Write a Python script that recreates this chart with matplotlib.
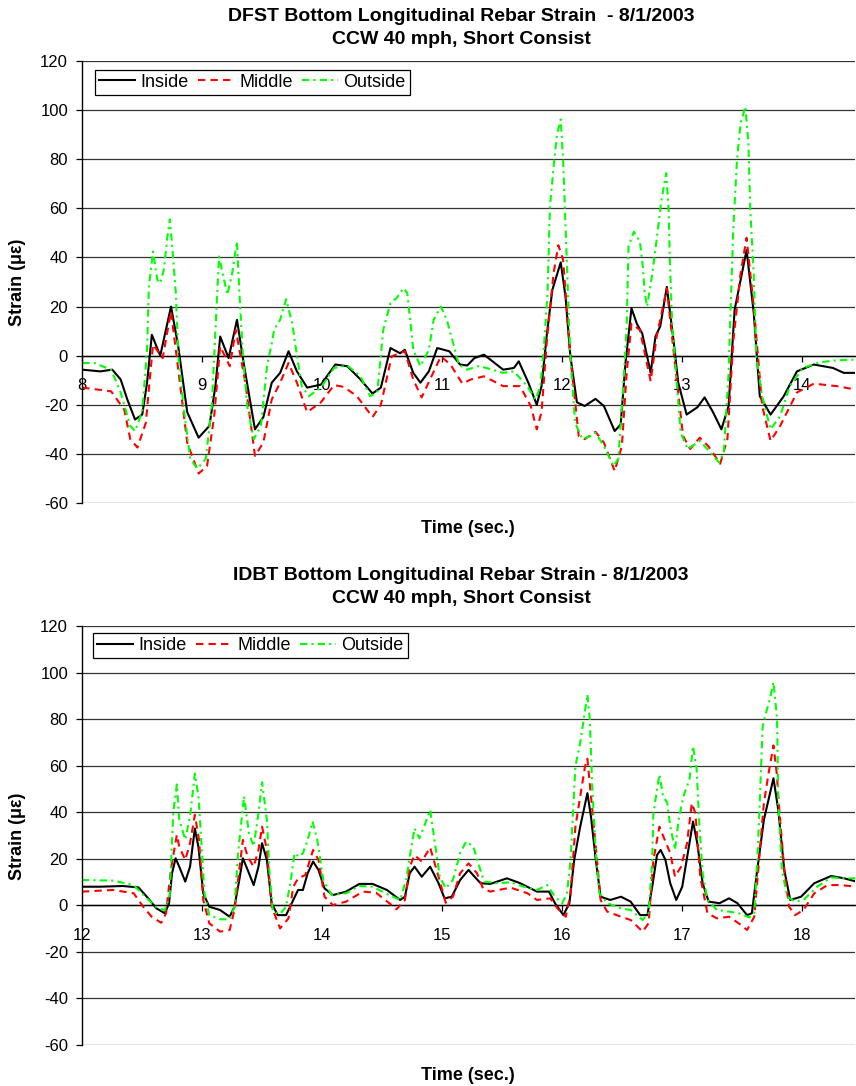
import matplotlib
matplotlib.use("Agg")
import matplotlib.pyplot as plt
import numpy as np

plt.rcParams['font.family'] = ['Liberation Sans', 'DejaVu Sans']

# ---------------- DFST (time in s, strain in microstrain) ----------------
dfst_t_inside = [8.0, 8.15, 8.25, 8.32, 8.375, 8.44, 8.5, 8.54, 8.58, 8.65, 8.74, 8.8, 8.875, 8.97, 9.06,
                 9.11, 9.15, 9.22, 9.29, 9.35, 9.44, 9.51, 9.58, 9.65, 9.72, 9.79, 9.875, 9.99, 10.11,
                 10.21, 10.32, 10.42, 10.49, 10.57, 10.65, 10.69, 10.76, 10.82, 10.89, 10.96, 11.06,
                 11.15, 11.21, 11.27, 11.35, 11.51, 11.6, 11.64, 11.72, 11.79, 11.83, 11.875, 11.92,
                 11.99, 12.03, 12.07, 12.125, 12.19, 12.28, 12.35, 12.44, 12.49, 12.53, 12.58, 12.625,
                 12.67, 12.74, 12.78, 12.82, 12.875, 12.93, 12.97, 13.04, 13.13, 13.19, 13.26, 13.33,
                 13.39, 13.44, 13.54, 13.6, 13.65, 13.74, 13.85, 13.96, 14.1, 14.26, 14.35, 14.45]
dfst_inside = [-5.7, -6.4, -5.7, -9.7, -17.8, -26, -24, -11, 8.5, 0, 20, 3.8, -23, -33.4, -28.6,
               -12.4, 7.8, -1, 14.6, -4.3, -30, -25, -11, -7, 1.8, -6.4, -13, -11.8, -3.6,
               -4.3, -9.7, -15.4, -13, 3.1, 1, 2.4, -7, -11, -6.4, 3.1, 1.8,
               -3.6, -4, -1, 0.4, -5.7, -5, -2.3, -11, -20, -12.4, 9, 26.8,
               38, 24, 0, -19, -20.5, -17.6, -20.5, -30.7, -28, -3, 19.3, 13,
               9, -7, 7.8, 12, 28, 6.5, -11, -24, -21, -17, -23, -30,
               -20.5, 18.6, 43, 17.3, -16.5, -24, -16.5, -6.4, -3.6, -5, -7, -7]

dfst_t_middle = [8.0, 8.24, 8.35, 8.4, 8.46, 8.53, 8.56, 8.59, 8.67, 8.74, 8.79, 8.875, 8.97, 9.04, 9.1,
                 9.15, 9.23, 9.28, 9.36, 9.44, 9.51, 9.58, 9.65, 9.72, 9.79, 9.875, 9.99, 10.1, 10.18,
                 10.29, 10.42, 10.49, 10.58, 10.69, 10.76, 10.83, 10.9, 10.99, 11.07, 11.17, 11.24,
                 11.35, 11.51, 11.65, 11.74, 11.79, 11.83, 11.875, 11.93, 11.97, 12.01, 12.07, 12.14,
                 12.19, 12.28, 12.35, 12.44, 12.5, 12.54, 12.58, 12.65, 12.74, 12.79, 12.875, 12.93,
                 13.01, 13.07, 13.15, 13.22, 13.32, 13.38, 13.43, 13.49, 13.54, 13.6, 13.67, 13.74,
                 13.82, 13.96, 14.1, 14.29, 14.45]
dfst_middle = [-13, -14.5, -22, -34, -37.4, -27.3, -11, 4.5, -1, 18, -1.6, -35.4, -48, -45, -24.6,
               3.8, -4.3, 10.5, -11, -40.8, -35.4, -17.8, -11, -3, -11, -23, -19, -12, -12.7,
               -16.5, -25, -20, -0.3, 1.8, -9.7, -17, -9.7, -0.3, -3.6, -11.4, -9.7,
               -8.4, -12.4, -12.4, -20.5, -30, -23, 6.5, 33.5, 45, 39, -0.3, -32.7,
               -34, -31, -35.4, -47, -36.8, -7, 13, 10.5, -10.4, 7.8, 27.4, 2.4,
               -32.7, -38, -33.4, -36.8, -44, -34, 6.5, 33.5, 48, 20, -20.5, -34.7,
               -28.6, -15, -11.4, -12.4, -13.8]

dfst_t_outside = [8.0, 8.1, 8.24, 8.32, 8.4, 8.44, 8.5, 8.54, 8.555, 8.59, 8.625, 8.65, 8.68, 8.71, 8.73,
                  8.75, 8.78, 8.8, 8.85, 8.9, 8.96, 9.03, 9.08, 9.1, 9.12, 9.14, 9.17, 9.21, 9.25, 9.29,
                  9.31, 9.34, 9.375, 9.43, 9.49, 9.54, 9.58, 9.6, 9.65, 9.7, 9.75, 9.79, 9.83, 9.89,
                  9.99, 10.1, 10.21, 10.32, 10.4, 10.46, 10.51, 10.57, 10.62, 10.68, 10.71, 10.74,
                  10.76, 10.82, 10.89, 10.93, 10.99, 11.04, 11.1, 11.14, 11.21, 11.3, 11.37, 11.51,
                  11.6, 11.71, 11.78, 11.82, 11.85, 11.88, 11.9, 11.936, 11.96, 11.99, 12.01, 12.03,
                  12.05, 12.07, 12.11, 12.17, 12.24, 12.28, 12.35, 12.43, 12.47, 12.51, 12.54, 12.555,
                  12.6, 12.625, 12.65, 12.675, 12.69, 12.71, 12.75, 12.79, 12.83, 12.87, 12.89, 12.9,
                  12.92, 12.94, 12.99, 13.05, 13.15, 13.24, 13.31, 13.35, 13.39, 13.4, 13.43, 13.46,
                  13.49, 13.53, 13.555, 13.57, 13.6, 13.62, 13.67, 13.74, 13.82, 13.9, 14.01, 14.15,
                  14.29, 14.45]
dfst_outside = [-3, -3, -5.7, -15, -28.6, -30.7, -22.6, 2.4, 28, 42.4, 31, 29.5, 35, 48.5, 55.5,
                44.4, 25.5, 0, -23, -42, -46, -42, -20.5, 0, 21.4, 40.4, 33.6, 24.8, 33.6, 46.5,
                25.5, 0, -20.5, -34, -28.6, -4.3, 5, 10.6, 14.6, 23, 13.3, 0, -12.4, -16.5,
                -13, -5, -4, -8.4, -16.5, -15, 10.6, 21.4, 23.4, 27.5, 25.5, 12,
                2.4, -4.3, 2.4, 14.6, 20, 14.6, 3.8, -3.6, -5.7, -4.3, -5, -7,
                -6.4, -12.4, -17.8, -12.4, 3.8, 25.5, 60.7, 79.7, 90.5, 96.2, 79.7, 52.6,
                25.5, 0, -27.3, -34, -32.7, -31.4, -36.8, -45, -42, -13.8, 12, 44.4,
                50.5, 48.5, 46.5, 36.3, 25.5, 20, 32.2, 47.2, 63.4, 74.3, 59.3, 39,
                12, 0, -31.4, -38, -34.7, -39.5, -43.5, -39.5, -7, 9.2, 52.6, 79.7,
                94.6, 101.4, 86.4, 60.7, 32.2, 0, -16.5, -30, -24.6, -12.4, -5, -2.7,
                -1.9, -1.6]

# ---------------- IDBT ----------------
idbt_t_inside = [12.0, 12.15, 12.34, 12.47, 12.54, 12.62, 12.69, 12.725, 12.75, 12.78, 12.81, 12.86, 12.9,
                 12.94, 12.97, 13.01, 13.06, 13.15, 13.23, 13.27, 13.31, 13.34, 13.38, 13.43, 13.47, 13.5,
                 13.54, 13.58, 13.63, 13.7, 13.76, 13.8, 13.84, 13.88, 13.925, 13.97, 14.02, 14.09, 14.2,
                 14.31, 14.42, 14.54, 14.65, 14.69, 14.73, 14.77, 14.83, 14.9, 14.97, 15.02, 15.08, 15.15,
                 15.22, 15.27, 15.32, 15.4, 15.54, 15.65, 15.79, 15.89, 15.94, 16.01, 16.06, 16.1, 16.15,
                 16.21, 16.24, 16.28, 16.32, 16.4, 16.49, 16.57, 16.65, 16.71, 16.75, 16.79, 16.82, 16.86,
                 16.9, 16.95, 17.0, 17.06, 17.09, 17.125, 17.17, 17.22, 17.31, 17.39, 17.46, 17.54, 17.58,
                 17.625, 17.68, 17.76, 17.8, 17.85, 17.9, 17.99, 18.1, 18.24, 18.35, 18.45]
idbt_inside = [8, 8, 8.3, 7.7, 3.7, -1.3, -3.4, 0.9, 13.8, 20.2, 16.6, 10.2, 16.6,
               33, 25, 5.2, -0.6, -2, -4.9, -0.6, 10.9, 20.2, 15.2, 8.7, 16.6, 26.7,
               19.5, 0.9, -4.2, -4.2, 2.3, 6.6, 6.6, 13.8, 18.8, 15.2, 7.3, 4.4, 5.9,
               9.2, 9.2, 6.6, 2.3, 3.7, 13.8, 16.6, 12.3, 16.6, 9.5, 3, 3.7, 10.9,
               15.2, 12.3, 9.5, 9.2, 11.6, 9.5, 5.9, 5.9, 0.9, -4.2, 0.9, 19.5, 33.8,
               48.2, 38, 19.5, 3.7, 2.3, 3.7, 1.6, -4.2, -4.2, 8, 21.6, 23.8, 19.5,
               9.5, 2.3, 8, 26.7, 36, 26.7, 9.5, 1.6, 0.9, 3, 0.9, -4.2, -3.4,
               15.2, 36.7, 54.6, 41, 15.2, 2.3, 3.7, 9.5, 12.6, 11.6, 10.2]

idbt_t_middle = [12.0, 12.26, 12.43, 12.51, 12.58, 12.66, 12.7, 12.74, 12.79, 12.81, 12.86, 12.9, 12.94,
                 12.975, 13.01, 13.06, 13.15, 13.23, 13.27, 13.31, 13.34, 13.38, 13.43, 13.47, 13.5, 13.54,
                 13.58, 13.65, 13.72, 13.76, 13.8, 13.86, 13.925, 13.97, 14.02, 14.09, 14.2, 14.34, 14.45,
                 14.56, 14.62, 14.69, 14.73, 14.77, 14.83, 14.9, 14.97, 15.03, 15.09, 15.15, 15.22, 15.29,
                 15.34, 15.4, 15.57, 15.71, 15.79, 15.9, 15.96, 16.03, 16.07, 16.11, 16.15, 16.19, 16.21,
                 16.24, 16.28, 16.32, 16.375, 16.49, 16.57, 16.67, 16.72, 16.76, 16.81, 16.86, 16.9, 16.94,
                 16.99, 17.04, 17.08, 17.11, 17.15, 17.21, 17.29, 17.39, 17.47, 17.54, 17.6, 17.64, 17.68,
                 17.72, 17.76, 17.79, 17.8, 17.85, 17.89, 17.94, 18.01, 18.1, 18.21, 18.32, 18.45]
idbt_middle = [5.9, 6.6, 5.2, -0.6, -4.9, -7.5, -3.4, 15.2, 30.3, 25.2, 19.5, 26.7, 38.9,
               28.1, 2.3, -7.7, -11.3, -10.6, -2, 15.2, 28.1, 20.9, 16.6, 23.8, 33.8, 23.8,
               -0.6, -9.9, -5.6, 8, 11.6, 13, 23.8, 19.5, 3.7, 0.1, 1.6, 5.9, 5.4,
               0.9, -1.7, 2.3, 16.6, 21.6, 18.8, 24.9, 12.3, 1.1, 3.7, 13.8, 18, 13.8,
               7.3, 5.9, 7.6, 5.2, 2.3, 3, -1.3, -4.9, 5.2, 33.8, 46.7, 59.6, 63,
               46.7, 25.2, 2.3, -2.7, -4.9, -6.3, -11.3, -7.7, 19.5, 33.8, 27.4, 22.4, 12.3,
               16.6, 26.7, 43.9, 39.5, 12.3, -3.4, -5.6, -4.9, -7.7, -10.6, -4.9, 19.5, 43.9,
               57, 68.7, 55.5, 46.7, 15.2, -0.6, -4.2, -2, 5.2, 8.7, 8.7, 8]

idbt_t_outside = [12.0, 12.26, 12.43, 12.54, 12.63, 12.69, 12.73, 12.76, 12.79, 12.81, 12.86, 12.9, 12.94,
                  12.97, 13.0, 13.02, 13.06, 13.15, 13.23, 13.27, 13.3, 13.35, 13.39, 13.43, 13.47, 13.5,
                  13.54, 13.56, 13.59, 13.65, 13.7, 13.74, 13.77, 13.81, 13.84, 13.88, 13.92, 13.96, 14.01,
                  14.08, 14.2, 14.31, 14.42, 14.56, 14.65, 14.7, 14.73, 14.77, 14.81, 14.855, 14.9, 14.94,
                  14.98, 15.03, 15.09, 15.15, 15.2, 15.26, 15.31, 15.35, 15.46, 15.57, 15.68, 15.79, 15.875,
                  15.94, 16.0, 16.04, 16.07, 16.11, 16.15, 16.18, 16.21, 16.23, 16.25, 16.28, 16.31, 16.375,
                  16.49, 16.57, 16.67, 16.72, 16.75, 16.76, 16.81, 16.84, 16.875, 16.9, 16.94, 16.97, 17.01,
                  17.06, 17.09, 17.12, 17.14, 17.17, 17.21, 17.29, 17.39, 17.47, 17.56, 17.6, 17.625, 17.64,
                  17.67, 17.69, 17.73, 17.76, 17.79, 17.8, 17.83, 17.875, 17.94, 18.01, 18.125, 18.24, 18.35,
                  18.45]
idbt_outside = [10.9, 10.6, 8.7, 3, -1.3, -2, 3.7, 39.7, 51.9, 36.8, 28.2, 38.3, 56.6,
                46.9, 22.5, 5.2, -4.2, -6, -6, -0.6, 22.5, 46.9, 31.1, 25.4, 39.7, 52.9,
                36.8, 15.3, -2.7, -3.7, -0.6, 10.9, 22.4, 20.9, 22.4, 28.1, 36, 28.1, 10.9,
                4.4, 5.2, 8.3, 8, 4.4, 2.3, 10.9, 20.9, 33.1, 28.8, 34.6, 41, 26.7,
                12.3, 7.3, 10.9, 22.4, 27.4, 25.2, 16.6, 10.2, 9.5, 9.9, 8, 6.6, 8.7,
                3.7, 0.9, 5.2, 19.5, 59.8, 69.8, 79.9, 90.6, 79.9, 51.2, 22.5, 5.2, 0.9,
                -1.3, -2, -6.3, -3.4, 19.5, 39.7, 56.2, 46.9, 44, 34, 23.9, 36.8, 46.9,
                54, 68.4, 58.4, 36.8, 13.9, 2.3, -2, -2.7, -3.4, -5.2, -3.4, 19.5, 36.8,
                77, 81.3, 88.5, 95.9, 79.9, 44, 15.3, 3.7, 1.6, 2.3, 8, 12, 11.6,
                11.6]

series_names = ["Inside", "Middle", "Outside"]
y_ticks = list(range(-60, 121, 20))
dfst_x_ticks = [8, 9, 10, 11, 12, 13, 14]
idbt_x_ticks = [12, 13, 14, 15, 16, 17, 18]

W, H = 856, 1086
fig = plt.figure(figsize=(W / 100, H / 100), dpi=100)

styles = [
    dict(color="black", linestyle="-"),
    dict(color="#FF0000", linestyle=(0, (3.5, 2.5))),
    dict(color="#00FF00", linestyle=(0, (3.5, 2.0, 1.0, 2.0))),
]


def px_axes(left, top, right, bottom):
    return fig.add_axes([left / W, 1 - bottom / H, (right - left) / W, (bottom - top) / H])


def draw_panel(ax, series, xticks, xlim, legend_anchor):
    for (t, v), name, st in zip(series, series_names, styles):
        ax.plot(t, v, lw=1.5, label=name, **st)
    ax.set_xlim(*xlim)
    ax.set_ylim(-60, 120)
    ax.set_yticks(y_ticks)
    ax.set_yticklabels([str(v) for v in y_ticks])
    ax.set_xticks(xticks)
    ax.set_xticklabels([str(v) for v in xticks])
    ax.grid(axis="y", color="#333333", lw=0.9)
    ax.set_axisbelow(True)
    for s in ("top", "right"):
        ax.spines[s].set_visible(False)
    ax.spines["left"].set_color("black")
    ax.spines["left"].set_linewidth(1.0)
    ax.spines["bottom"].set_position(("data", 0))
    ax.spines["bottom"].set_color("black")
    ax.spines["bottom"].set_linewidth(1.0)
    ax.spines["bottom"].set_zorder(1.5)
    ax.tick_params(axis="y", direction="out", length=4, width=0.9, labelsize=12, pad=6)
    ax.tick_params(axis="x", direction="out", length=4, width=0.9, labelsize=12, pad=12)
    leg = ax.legend(loc="upper left", bbox_to_anchor=legend_anchor, ncol=3, fontsize=13,
                    frameon=True, fancybox=False, edgecolor="black", framealpha=1,
                    borderaxespad=0, handlelength=2.0, handletextpad=0.3,
                    columnspacing=0.5, borderpad=0.22)
    leg.get_frame().set_linewidth(0.9)


ax1 = px_axes(82, 61, 855, 503)
draw_panel(ax1,
           [(dfst_t_inside, dfst_inside), (dfst_t_middle, dfst_middle), (dfst_t_outside, dfst_outside)],
           dfst_x_ticks, (8 - 0.3 / 120, 8 + 773.3 / 120), (0.017, 0.98))

ax2 = px_axes(82, 626, 855, 1045)
draw_panel(ax2,
           [(idbt_t_inside, idbt_inside), (idbt_t_middle, idbt_middle), (idbt_t_outside, idbt_outside)],
           idbt_x_ticks, (12, 12 + 772.7 / 120), (0.0142, 0.983))

title_kw = dict(ha="center", va="center", fontsize=14, fontweight="bold", multialignment="center",
                linespacing=1.4)
fig.text(461 / W, 1 - 28 / H,
         "DFST Bottom Longitudinal Rebar Strain  - 8/1/2003\nCCW 40 mph, Short Consist", **title_kw)
fig.text(461 / W, 1 - 587 / H,
         "IDBT Bottom Longitudinal Rebar Strain - 8/1/2003\nCCW 40 mph, Short Consist", **title_kw)

lab_kw = dict(ha="center", va="center", fontsize=13, fontweight="bold")
fig.text(468 / W, 1 - 529 / H, "Time (sec.)", **lab_kw)
fig.text(468 / W, 1 - 1075 / H, "Time (sec.)", **lab_kw)
fig.text(18 / W, 1 - 282 / H, "Strain (\u03bc\u03b5)", rotation=90, **lab_kw)
fig.text(18 / W, 1 - 836 / H, "Strain (\u03bc\u03b5)", rotation=90, **lab_kw)

fig.savefig("out.png", dpi=100)
